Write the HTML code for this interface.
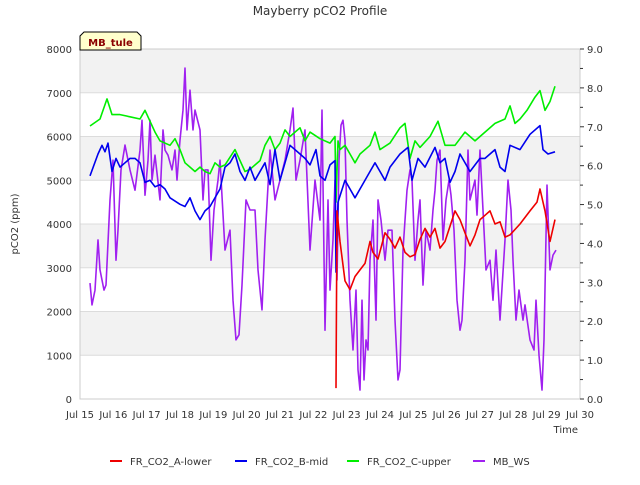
<!DOCTYPE html>
<html><head><meta charset="utf-8"><style>
body{margin:0;background:#fff;}
svg{font-family:"DejaVu Sans","Liberation Sans",sans-serif;}
</style></head><body>
<svg id="chart" width="640" height="480" viewBox="0 0 640 480">
<text x="320" y="15" text-anchor="middle" font-size="12" fill="#333">Mayberry pCO2 Profile</text>
<g id="bands"></g><g id="grid"></g>
<rect x="80" y="49" width="500" height="350" fill="none" stroke="#ccc"/>
<g id="series"></g><g id="axes"></g>
<text transform="translate(18,224) rotate(-90)" text-anchor="middle" font-size="10" fill="#333">pCO2 (ppm)</text>
<text x="578" y="433" text-anchor="end" font-size="10" fill="#333">Time</text>
<g>
<path d="M80,50 L80,36 L84,32 L137,32 L141,36 L141,50 Z" fill="#ffffcc" stroke="#000" stroke-width="1"/>
<text x="110.5" y="46" text-anchor="middle" font-size="10" font-weight="bold" fill="#8b0000">MB_tule</text>
</g>
<g id="legend"></g>
</svg>
<script>
const xTickLabels=["Jul 15","Jul 16","Jul 17","Jul 18","Jul 19","Jul 20","Jul 21","Jul 22","Jul 23","Jul 24","Jul 25","Jul 26","Jul 27","Jul 28","Jul 29","Jul 30"];
const yLeftTicks=[0,1000,2000,3000,4000,5000,6000,7000,8000];
const yRightTicks=[0,1,2,3,4,5,6,7,8,9];
const seriesNames=["FR_CO2_A-lower","FR_CO2_B-mid","FR_CO2_C-upper","MB_WS"];
const redT=[7.68,7.71,7.80,7.95,8.10,8.25,8.40,8.55,8.70,8.79,8.94,9.15,9.30,9.45,9.60,9.75,9.90,10.05,10.20,10.35,10.50,10.65,10.80,10.95,11.10,11.25,11.40,11.55,11.70,11.85,12.00,12.15,12.30,12.45,12.60,12.75,12.90,13.20,13.50,13.71,13.80,13.95,14.10,14.25];
const redV=[250,4300,3600,2700,2500,2800,2950,3100,3600,3350,3200,3800,3650,3450,3700,3350,3250,3300,3650,3900,3700,3900,3450,3600,3950,4300,4100,3800,3500,3750,4100,4200,4300,4000,4050,3700,3750,4000,4300,4500,4800,4300,3600,4100];
const blueT=[0.30,0.54,0.66,0.75,0.84,0.96,1.08,1.20,1.35,1.50,1.65,1.80,1.95,2.10,2.25,2.40,2.55,2.70,3.00,3.15,3.30,3.45,3.60,3.75,3.90,4.20,4.35,4.50,4.65,4.80,4.95,5.10,5.25,5.55,5.70,5.85,6.00,6.30,6.60,6.75,6.90,7.08,7.20,7.35,7.50,7.65,7.68,7.74,7.95,8.10,8.25,8.40,8.70,8.85,9.00,9.15,9.30,9.60,9.84,9.96,10.14,10.35,10.65,10.80,10.95,11.10,11.25,11.40,11.70,12.00,12.15,12.45,12.60,12.75,12.90,13.20,13.50,13.80,13.89,14.04,14.25];
const blueV=[5100,5600,5800,5650,5850,5200,5500,5300,5400,5500,5500,5400,4950,5000,4850,4900,4800,4600,4450,4400,4600,4300,4100,4300,4400,4800,5300,5400,5600,5200,5000,5300,5000,5400,4900,5700,5000,5800,5600,5500,5350,5700,5100,5000,5350,5450,2900,4500,5000,4800,4600,4800,5200,5400,5200,5000,5300,5600,5750,5000,5500,5300,5750,5400,5500,4950,5200,5600,5200,5500,5500,5700,5300,5200,5800,5700,6050,6250,5700,5600,5650];
const greenT=[0.30,0.60,0.81,0.96,1.20,1.50,1.80,1.95,2.10,2.25,2.40,2.70,2.85,3.00,3.15,3.30,3.45,3.60,3.75,3.90,4.05,4.20,4.35,4.65,4.80,4.95,5.10,5.40,5.55,5.70,5.85,6.00,6.15,6.30,6.45,6.60,6.75,6.90,7.20,7.50,7.65,7.68,7.74,7.80,7.95,8.10,8.25,8.40,8.70,8.85,9.00,9.30,9.60,9.75,9.90,10.05,10.20,10.50,10.74,10.95,11.25,11.55,11.85,12.15,12.45,12.75,12.90,13.05,13.20,13.41,13.65,13.80,13.95,14.10,14.25];
const greenV=[6240,6400,6860,6500,6500,6450,6400,6600,6350,6100,5900,5800,5950,5700,5400,5300,5200,5300,5200,5150,5400,5300,5350,5700,5450,5200,5250,5450,5800,6000,5700,5850,6150,6000,6100,6200,5900,6100,5950,5850,6000,4500,5900,5700,5800,5600,5400,5600,5800,6100,5700,5850,6200,6300,5500,5900,5750,6000,6350,5800,5800,6100,5900,6100,6300,6400,6700,6300,6400,6600,6900,7050,6600,6800,7150];
const wsT=[0.30,0.36,0.45,0.54,0.60,0.72,0.78,0.90,0.99,1.08,1.14,1.23,1.35,1.50,1.65,1.80,1.86,1.95,2.04,2.10,2.16,2.25,2.40,2.49,2.55,2.64,2.76,2.85,2.91,3.00,3.09,3.15,3.21,3.30,3.39,3.45,3.60,3.69,3.75,3.84,3.93,4.02,4.14,4.20,4.35,4.50,4.59,4.68,4.77,4.86,4.98,5.10,5.25,5.34,5.46,5.55,5.70,5.85,6.00,6.15,6.30,6.39,6.48,6.60,6.75,6.90,7.05,7.20,7.26,7.35,7.44,7.50,7.59,7.65,7.71,7.77,7.83,7.89,7.95,8.01,8.10,8.19,8.28,8.34,8.40,8.46,8.52,8.58,8.64,8.70,8.79,8.88,8.94,9.03,9.15,9.24,9.36,9.45,9.54,9.60,9.69,9.81,9.90,9.96,10.05,10.14,10.20,10.29,10.38,10.50,10.59,10.65,10.71,10.80,10.89,10.98,11.07,11.13,11.22,11.31,11.40,11.46,11.55,11.64,11.70,11.85,11.91,12.00,12.12,12.18,12.30,12.39,12.48,12.60,12.75,12.84,12.93,12.99,13.08,13.17,13.29,13.35,13.50,13.62,13.68,13.77,13.86,13.92,14.01,14.10,14.19,14.28];
const wsV=[2.98,2.42,2.80,4.09,3.32,2.80,2.93,5.12,6.14,3.57,4.34,5.89,6.53,5.89,5.37,6.40,7.17,5.24,6.14,7.17,5.63,6.27,5.12,6.92,6.40,6.27,5.89,6.40,5.63,6.66,7.43,8.51,6.92,7.94,6.92,7.43,6.92,5.12,5.89,5.89,3.57,4.86,5.63,6.14,3.83,4.34,2.54,1.52,1.65,2.93,5.12,4.86,4.86,3.32,2.29,4.09,6.40,5.12,5.63,6.14,6.92,7.48,5.63,6.14,6.92,3.83,5.63,4.60,7.43,1.77,5.12,2.80,4.09,5.63,3.06,6.14,7.04,7.17,6.66,4.60,2.54,1.26,2.80,0.75,0.23,2.54,0.49,1.52,1.26,3.57,4.60,2.03,5.12,4.60,3.57,4.34,4.34,2.03,0.49,0.75,3.83,5.37,5.89,5.63,3.57,4.60,5.12,2.93,4.34,3.83,4.86,5.37,6.14,6.40,4.09,5.12,5.63,5.24,4.34,2.54,1.77,2.03,3.57,6.40,5.12,5.63,4.73,6.40,4.34,3.32,3.57,2.54,3.83,2.03,4.09,5.63,4.86,3.57,2.03,2.80,2.03,2.42,1.52,1.26,2.54,1.13,0.23,1.52,5.50,3.32,3.70,3.83];

const L=80,R=580,T=49,B=399,NS="http://www.w3.org/2000/svg";
const x=t=>L+t*(R-L)/15;
const yL=v=>B-v*(B-T)/8000;
const yR=v=>B-v*(B-T)/9;
function mk(tag,attrs,parent){const e=document.createElementNS(NS,tag);for(const k in attrs)e.setAttribute(k,attrs[k]);parent.appendChild(e);return e;}
const bands=document.getElementById('bands'),grid=document.getElementById('grid'),axes=document.getElementById('axes'),ser=document.getElementById('series'),leg=document.getElementById('legend');
for(let i=0;i<8;i++){if(i%2===1){const r=mk('rect',{x:L,y:yL((i+1)*1000),width:R-L,height:yL(i*1000)-yL((i+1)*1000),fill:'#f2f2f2'},bands);

}}
yLeftTicks.forEach(v=>{const g=mk('line',{x1:L,x2:R,y1:yL(v),y2:yL(v),stroke:'#dcdcdc'},grid);


const t=mk('text',{x:72,y:yL(v)+4,'text-anchor':'end','font-size':10,fill:'#333'},axes);t.textContent=v;

});
yRightTicks.forEach(v=>{const tk=mk('line',{x1:R,x2:R+4,y1:yR(v),y2:yR(v),stroke:'#333'},axes);


if(v<9){const m=mk('line',{x1:R,x2:R+3,y1:yR(v+0.5),y2:yR(v+0.5),stroke:'#333'},axes);

}
const t=mk('text',{x:587,y:yR(v)+4,'font-size':10,fill:'#333'},axes);t.textContent=v.toFixed(1);

});
xTickLabels.forEach((s,i)=>{const t=mk('text',{x:x(i),y:418,'text-anchor':'middle','font-size':10,fill:'#333'},axes);t.textContent=s;

});
function line(ts,vs,yf,color,name){const d=ts.map((t,i)=>(i?'L':'M')+x(t).toFixed(1)+','+yf(vs[i]).toFixed(1)).join('');
const p=mk('path',{d:d,fill:'none',stroke:color,'stroke-width':1.6,'stroke-linejoin':'round'},ser);

}
line(wsT,wsV,yR,'#a020f0','series-mb-ws');
line(greenT,greenV,yL,'#00ee00','series-c-upper');
line(blueT,blueV,yL,'#0000ee','series-b-mid');
line(redT,redV,yL,'#ee0000','series-a-lower');
const colors=['#ee0000','#0000ee','#00ee00','#a020f0'],lx=[110,235,347,473];
seriesNames.forEach((n,i)=>{const g=mk('g',{},leg);


mk('line',{x1:lx[i],x2:lx[i]+12,y1:461,y2:461,stroke:colors[i],'stroke-width':2},g);
const t=mk('text',{x:lx[i]+20,y:465,'font-size':10,fill:'#333'},g);t.textContent=n;});
</script>
</body></html>
